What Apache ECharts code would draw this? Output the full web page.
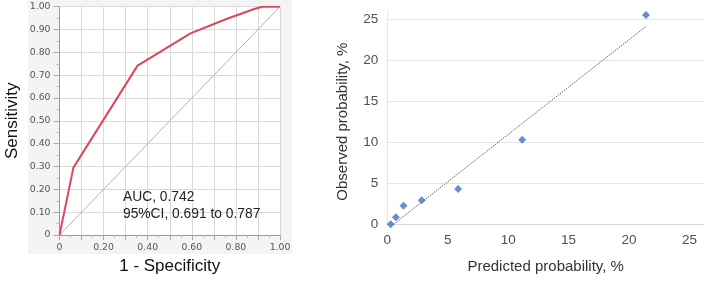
<!DOCTYPE html>
<html>
<head>
<meta charset="utf-8">
<script src="https://cdn.jsdelivr.net/npm/echarts@6/dist/echarts.min.js"></script>
<style>html,body{margin:0;padding:0;background:#fff;}#c{width:707px;height:283px;}</style>
</head>
<body>
<div id="c"></div>
<script>
// ROC curve (left)
const rocX = [0, 0.063, 0.354, 0.594, 0.754, 0.883, 0.92, 1.0];
const rocY = [0, 0.295, 0.742, 0.883, 0.945, 0.99, 1.0, 1.0];
const diagX = [0, 1];
const diagY = [0, 1];
const aucText = ['AUC, 0.742', '95%CI, 0.691 to 0.787'];
// Calibration (right)
const predicted = [0.28, 0.71, 1.34, 2.85, 5.86, 11.16, 21.4];
const observed = [0, 0.85, 2.27, 2.92, 4.3, 10.3, 25.5];
const trendX = [0.28, 21.4];
const trendY = [-0.27, 24.1];
const calTicks = [0, 5, 10, 15, 20, 25];

const zip = (a, b) => a.map((v, i) => [v, b[i]]);
const chart = echarts.init(document.getElementById('c'), null, {renderer: 'canvas'});
const smallFont = {fontFamily: 'DejaVu Sans', fontSize: 9.3, color: '#555'};
const calFont = {fontFamily: 'Liberation Sans', fontSize: 13.5, color: '#505050'};

chart.setOption({
  animation: false,
  backgroundColor: '#fff',
  graphic: [
    {type: 'rect', z: -10, shape: {x: 28, y: 0, width: 264, height: 254}, style: {fill: '#f4f4f4'}},
    {type: 'text', z: 10, left: 123, top: 189, style: {text: aucText.join('\n'), fontFamily: 'Liberation Sans', fontSize: 13.8, lineHeight: 16.5, fill: '#222'}},
    {type: 'line', z: 1, shape: {x1: 387.8, y1: 10, x2: 387.8, y2: 19}, style: {stroke: '#e6e6e6', lineWidth: 1}}
  ],
  grid: [
    {left: 59.5, top: 6.7, width: 220.5, height: 228.3, show: true, backgroundColor: '#fff', borderWidth: 0},
    {left: 387.3, top: 19, right: 0, height: 205.3}
  ],
  xAxis: [
    {gridIndex: 0, type: 'value', min: 0, max: 1, interval: 0.1,
     name: '1 - Specificity', nameLocation: 'middle', nameGap: 23,
     nameTextStyle: {fontFamily: 'Liberation Sans', fontSize: 17, color: '#111'},
     axisLine: {show: true, lineStyle: {color: '#999'}},
     axisTick: {show: true, length: 5, lineStyle: {color: '#aaa'}},
     minorTick: {show: true, splitNumber: 2, length: 3, lineStyle: {color: '#bbb'}},
     splitLine: {show: true, lineStyle: {color: '#dadada'}},
     axisLabel: Object.assign({margin: 8, formatter: v => {
        const k = Math.round(v * 10);
        if (k === 0) return '0';
        return (k % 2 === 0) ? v.toFixed(2) : '';
     }}, smallFont)},
    {gridIndex: 1, type: 'value', min: 0, max: 26.2, interval: 5,
     name: 'Predicted probability, %', nameLocation: 'middle', nameGap: 35,
     nameTextStyle: {fontFamily: 'Liberation Sans', fontSize: 15, color: '#333'},
     axisLine: {show: true, lineStyle: {color: '#d9d9d9'}},
     axisTick: {show: false},
     splitLine: {show: false},
     axisLabel: Object.assign({margin: 9, showMaxLabel: true, formatter: v => calTicks.indexOf(v) >= 0 ? String(v) : ''}, calFont)}
  ],
  yAxis: [
    {gridIndex: 0, type: 'value', min: 0, max: 1, interval: 0.1,
     name: 'Sensitivity', nameLocation: 'middle', nameGap: 39,
     nameTextStyle: {fontFamily: 'Liberation Sans', fontSize: 17, color: '#111'},
     axisLine: {show: true, lineStyle: {color: '#999'}},
     axisTick: {show: true, length: 6, lineStyle: {color: '#aaa'}},
     minorTick: {show: true, splitNumber: 2, length: 3, lineStyle: {color: '#bbb'}},
     splitLine: {show: true, lineStyle: {color: '#dadada'}},
     axisLabel: Object.assign({margin: 9, formatter: v => v === 0 ? '0' : v.toFixed(2)}, smallFont)},
    {gridIndex: 1, type: 'value', min: 0, max: 25, interval: 5,
     name: 'Observed probability, %', nameLocation: 'middle', nameGap: 37,
     nameTextStyle: {fontFamily: 'Liberation Sans', fontSize: 15, color: '#333'},
     axisLine: {show: true, lineStyle: {color: '#e6e6e6'}},
     axisTick: {show: false},
     splitLine: {show: true, lineStyle: {color: '#e6e6e6'}},
     axisLabel: Object.assign({margin: 9}, calFont)}
  ],
  series: [
    {type: 'line', xAxisIndex: 0, yAxisIndex: 0, data: zip(diagX, diagY), symbol: 'none',
     lineStyle: {color: '#b0b0b0', width: 1}, z: 3},
    {type: 'line', xAxisIndex: 0, yAxisIndex: 0, data: zip(rocX, rocY), symbol: 'none',
     lineStyle: {color: '#e0455c', width: 2}, z: 4},
    {type: 'line', xAxisIndex: 1, yAxisIndex: 1, data: zip(trendX, trendY), symbol: 'none',
     lineStyle: {color: '#666', width: 1, type: [1.5, 1]}, z: 3},
    {type: 'scatter', xAxisIndex: 1, yAxisIndex: 1, data: zip(predicted, observed), symbol: 'diamond',
     clip: false, symbolSize: 8, itemStyle: {color: '#4472c4'}, z: 5}
  ]
});
</script>
</body>
</html>
